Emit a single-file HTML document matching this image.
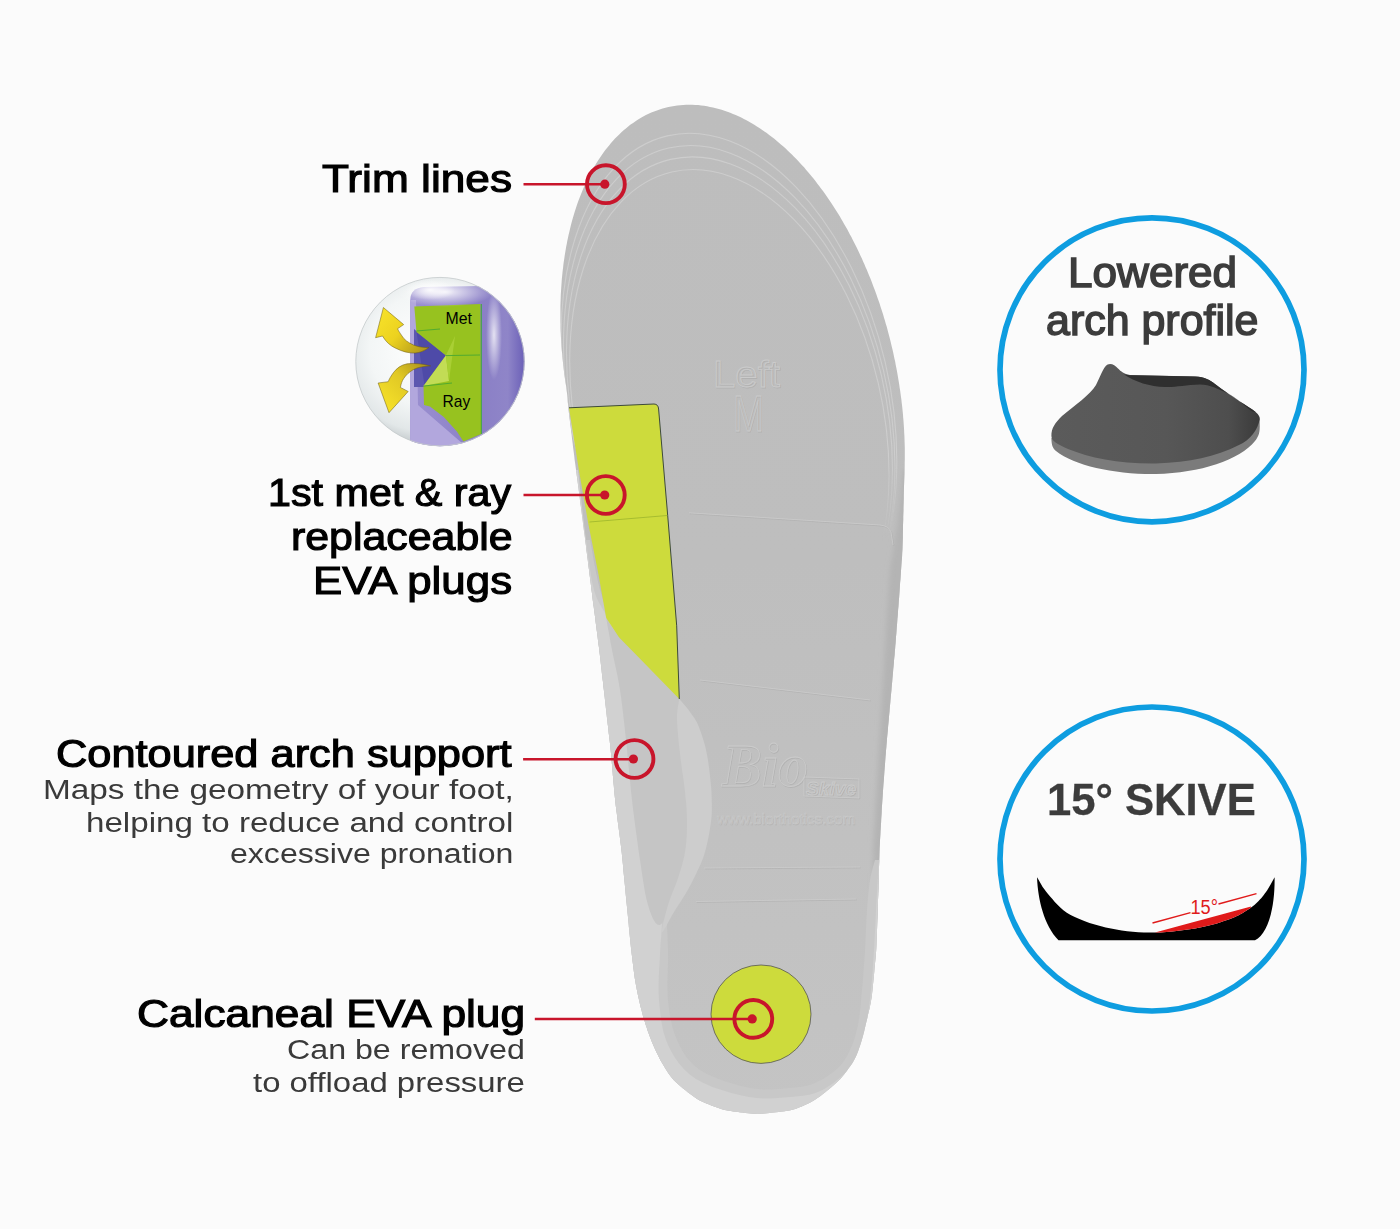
<!DOCTYPE html>
<html><head><meta charset="utf-8"><title>Insole features</title>
<style>
html,body{margin:0;padding:0;background:#fbfbfb;}
body{width:1400px;height:1229px;position:relative;overflow:hidden;font-family:"Liberation Sans",sans-serif;}
.s{position:absolute;left:0;top:0;}
.t{position:absolute;white-space:nowrap;transform-origin:0 50%;}
</style></head><body>
<svg class="s" width="1400" height="1229" viewBox="0 0 1400 1229">
<defs><clipPath id="ins"><path d="M567.0,393.1 L566.6,390.1 L566.2,387.1 L565.8,384.1 L565.3,381.2 L564.9,378.2 L564.5,375.2 L564.1,372.2 L563.7,369.3 L563.4,366.3 L563.1,363.3 L562.7,360.3 L562.4,357.3 L562.2,354.3 L561.9,351.3 L561.7,348.3 L561.5,345.3 L561.3,342.3 L561.1,339.4 L560.9,336.4 L560.8,333.4 L560.6,330.4 L560.5,327.4 L560.5,324.3 L560.4,321.3 L560.4,318.3 L560.4,315.3 L560.4,312.3 L560.4,309.3 L560.4,306.3 L560.5,303.3 L560.6,300.3 L560.7,297.3 L560.8,294.3 L561.0,291.3 L561.2,288.3 L561.4,285.3 L561.6,282.3 L561.8,279.3 L562.1,276.4 L562.4,273.4 L562.7,270.4 L563.1,267.4 L563.4,264.4 L563.8,261.4 L564.3,258.5 L564.7,255.5 L565.2,252.5 L565.7,249.6 L566.2,246.6 L566.8,243.7 L567.3,240.7 L568.0,237.8 L568.6,234.8 L569.3,231.9 L570.0,229.0 L570.7,226.1 L571.4,223.2 L572.2,220.3 L573.0,217.4 L573.9,214.5 L574.8,211.6 L575.7,208.8 L576.6,205.9 L577.6,203.1 L578.6,200.3 L579.7,197.4 L580.8,194.7 L581.9,191.9 L583.1,189.1 L584.3,186.3 L585.5,183.6 L586.8,180.9 L588.1,178.2 L589.4,175.5 L590.8,172.9 L592.3,170.2 L593.7,167.6 L595.3,165.0 L596.8,162.5 L598.4,159.9 L600.1,157.4 L601.8,154.9 L603.5,152.5 L605.3,150.1 L607.2,147.7 L609.1,145.4 L611.0,143.1 L613.0,140.8 L615.0,138.6 L617.1,136.5 L619.2,134.4 L621.4,132.3 L623.6,130.3 L625.9,128.4 L628.2,126.5 L630.6,124.6 L633.1,122.9 L635.5,121.2 L638.1,119.6 L640.6,118.0 L643.2,116.5 L645.9,115.1 L648.6,113.8 L651.3,112.6 L654.1,111.4 L656.9,110.4 L659.7,109.4 L662.6,108.5 L665.5,107.7 L668.4,107.0 L671.3,106.4 L674.3,105.9 L677.2,105.5 L680.2,105.2 L683.2,104.9 L686.2,104.8 L689.2,104.8 L692.2,104.8 L695.2,104.9 L698.2,105.1 L701.2,105.4 L704.1,105.8 L707.1,106.3 L710.0,106.9 L713.0,107.5 L715.9,108.2 L718.8,109.0 L721.7,109.8 L724.5,110.7 L727.4,111.7 L730.2,112.8 L733.0,113.9 L735.7,115.1 L738.5,116.3 L741.2,117.6 L743.9,118.9 L746.5,120.3 L749.1,121.8 L751.7,123.2 L754.3,124.8 L756.9,126.4 L759.4,128.0 L761.9,129.7 L764.4,131.4 L766.8,133.1 L769.2,134.9 L771.6,136.7 L774.0,138.6 L776.3,140.5 L778.6,142.4 L780.9,144.4 L783.1,146.3 L785.4,148.3 L787.6,150.4 L789.7,152.5 L791.9,154.6 L794.0,156.7 L796.1,158.8 L798.2,161.0 L800.2,163.2 L802.3,165.4 L804.3,167.6 L806.2,169.9 L808.2,172.2 L810.1,174.5 L812.0,176.8 L813.9,179.1 L815.8,181.5 L817.6,183.9 L819.4,186.3 L821.2,188.7 L823.0,191.1 L824.8,193.5 L826.5,196.0 L828.2,198.4 L829.9,200.9 L831.6,203.4 L833.2,205.9 L834.8,208.5 L836.4,211.0 L838.0,213.6 L839.6,216.1 L841.1,218.7 L842.6,221.3 L844.1,223.9 L845.6,226.5 L847.1,229.1 L848.5,231.8 L849.9,234.4 L851.4,237.1 L852.7,239.7 L854.1,242.4 L855.4,245.1 L856.8,247.8 L858.1,250.5 L859.4,253.2 L860.6,255.9 L861.9,258.6 L863.1,261.4 L864.3,264.1 L865.5,266.9 L866.7,269.6 L867.9,272.4 L869.0,275.2 L870.2,278.0 L871.3,280.8 L872.3,283.6 L873.4,286.4 L874.5,289.2 L875.5,292.0 L876.5,294.8 L877.5,297.7 L878.5,300.5 L879.5,303.3 L880.4,306.2 L881.3,309.1 L882.3,311.9 L883.2,314.8 L884.0,317.7 L884.9,320.5 L885.7,323.4 L886.6,326.3 L887.4,329.2 L888.1,332.1 L888.9,335.0 L889.7,337.9 L890.4,340.8 L891.1,343.7 L891.8,346.7 L892.5,349.6 L893.2,352.5 L893.8,355.4 L894.4,358.4 L895.1,361.3 L895.6,364.3 L896.2,367.2 L896.8,370.2 L897.3,373.1 L897.8,376.1 L898.3,379.0 L898.8,382.0 L899.3,385.0 L899.7,387.9 L900.2,390.9 L900.6,393.9 L901.0,396.9 L901.4,399.8 L901.7,402.8 L902.1,405.8 L902.4,408.8 L902.7,411.8 L903.0,414.8 L903.2,417.8 L903.5,420.8 L903.7,423.7 L903.9,426.7 L904.1,429.7 L904.2,432.7 L904.4,435.7 L904.5,438.7 L904.6,441.7 L904.7,444.7 L904.8,447.7 L904.8,450.7 L904.8,453.8 L904.8,456.8 L904.8,459.8 L904.7,462.8 L904.7,465.8 L904.6,468.8 L904.5,471.8 L904.4,474.8 L904.3,477.8 L904.2,480.8 L904.1,483.8 L904.0,486.8 L903.9,489.8 L903.8,492.8 L903.7,495.8 L903.7,498.8 L903.6,501.8 L903.5,504.8 L903.4,507.8 L903.4,510.8 L903.3,513.8 L903.2,516.8 L903.2,519.8 L903.1,522.8 L903.0,525.8 L903.0,528.8 L902.9,531.8 L902.8,534.8 L902.8,537.8 L902.7,540.8 L902.6,543.8 L902.5,546.8 L902.4,549.8 L902.2,552.8 L902.1,555.8 L901.9,558.8 L901.6,561.8 L901.4,564.8 L901.2,567.8 L901.0,570.8 L900.8,573.8 L900.6,576.8 L900.4,579.8 L900.1,582.8 L899.9,585.8 L899.7,588.8 L899.5,591.8 L899.3,594.8 L899.1,597.8 L898.8,600.8 L898.6,603.8 L898.4,606.8 L898.1,609.7 L897.9,612.7 L897.7,615.7 L897.4,618.7 L897.2,621.7 L897.0,624.7 L896.7,627.7 L896.5,630.7 L896.3,633.7 L896.0,636.7 L895.8,639.7 L895.6,642.7 L895.3,645.7 L895.1,648.7 L894.8,651.7 L894.6,654.7 L894.3,657.6 L894.0,660.6 L893.8,663.6 L893.5,666.6 L893.2,669.6 L893.0,672.6 L892.7,675.6 L892.4,678.6 L892.2,681.6 L891.9,684.6 L891.6,687.6 L891.4,690.6 L891.1,693.5 L890.8,696.5 L890.5,699.5 L890.3,702.5 L890.0,705.5 L889.7,708.5 L889.5,711.5 L889.2,714.5 L888.9,717.5 L888.7,720.5 L888.4,723.5 L888.1,726.5 L887.9,729.4 L887.6,732.4 L887.3,735.4 L887.0,738.4 L886.8,741.4 L886.5,744.4 L886.3,747.4 L886.0,750.4 L885.8,753.4 L885.5,756.4 L885.3,759.4 L885.1,762.4 L884.9,765.4 L884.6,768.4 L884.4,771.3 L884.2,774.3 L884.0,777.3 L883.8,780.3 L883.5,783.3 L883.3,786.3 L883.1,789.3 L882.9,792.3 L882.7,795.3 L882.5,798.3 L882.3,801.3 L882.1,804.3 L881.9,807.3 L881.7,810.3 L881.6,813.3 L881.4,816.3 L881.2,819.3 L881.1,822.3 L880.9,825.3 L880.7,828.3 L880.5,831.3 L880.4,834.3 L880.2,837.3 L880.0,840.3 L879.9,843.3 L879.7,846.3 L879.6,849.3 L879.5,852.3 L879.4,855.3 L879.3,858.3 L879.2,861.3 L879.1,864.3 L879.0,867.3 L878.9,870.3 L878.8,873.3 L878.7,876.3 L878.6,879.3 L878.5,882.3 L878.4,885.3 L878.4,888.3 L878.3,891.3 L878.2,894.3 L878.1,897.3 L878.0,900.3 L877.9,903.3 L877.8,906.3 L877.7,909.3 L877.6,912.3 L877.5,915.3 L877.4,918.3 L877.3,921.3 L877.2,924.3 L877.1,927.3 L877.0,930.3 L876.9,933.3 L876.8,936.3 L876.7,939.3 L876.5,942.3 L876.4,945.3 L876.3,948.3 L876.1,951.3 L875.8,954.3 L875.6,957.3 L875.3,960.3 L875.0,963.3 L874.7,966.3 L874.4,969.3 L874.2,972.3 L873.9,975.3 L873.6,978.3 L873.3,981.2 L873.0,984.2 L872.7,987.2 L872.4,990.2 L872.1,993.2 L871.7,996.2 L871.3,999.1 L870.8,1002.1 L870.2,1005.0 L869.6,1008.0 L868.9,1010.9 L868.2,1013.8 L867.6,1016.7 L866.9,1019.7 L866.2,1022.6 L865.5,1025.5 L864.8,1028.4 L864.1,1031.4 L863.4,1034.3 L862.6,1037.2 L861.8,1040.1 L860.9,1042.9 L860.0,1045.8 L859.0,1048.6 L858.0,1051.4 L856.9,1054.2 L855.7,1057.0 L854.4,1059.6 L852.9,1062.2 L851.3,1064.7 L849.6,1067.1 L847.8,1069.6 L846.0,1071.9 L844.2,1074.3 L842.3,1076.6 L840.3,1078.9 L838.2,1081.0 L836.0,1083.0 L833.8,1085.0 L831.5,1087.0 L829.2,1088.9 L826.9,1090.8 L824.6,1092.7 L822.2,1094.6 L819.8,1096.4 L817.4,1098.1 L814.9,1099.8 L812.4,1101.3 L809.7,1102.7 L807.0,1104.0 L804.3,1105.3 L801.6,1106.5 L798.8,1107.6 L796.0,1108.7 L793.2,1109.5 L790.3,1110.2 L787.4,1110.7 L784.4,1111.2 L781.4,1111.5 L778.5,1111.9 L775.5,1112.3 L772.5,1112.6 L769.5,1113.0 L766.5,1113.3 L763.5,1113.6 L760.6,1113.8 L757.6,1113.9 L754.6,1113.8 L751.6,1113.6 L748.6,1113.3 L745.7,1113.0 L742.7,1112.6 L739.7,1112.2 L736.7,1111.8 L733.8,1111.4 L730.8,1111.0 L727.8,1110.5 L724.9,1109.9 L722.0,1109.2 L719.2,1108.3 L716.4,1107.3 L713.5,1106.3 L710.8,1105.2 L708.0,1104.0 L705.2,1102.9 L702.5,1101.7 L699.8,1100.4 L697.2,1098.9 L694.7,1097.3 L692.3,1095.6 L689.9,1093.7 L687.5,1091.9 L685.2,1090.0 L682.8,1088.2 L680.5,1086.3 L678.2,1084.3 L676.0,1082.3 L673.9,1080.2 L672.0,1078.0 L670.2,1075.7 L668.4,1073.2 L666.8,1070.7 L665.2,1068.2 L663.6,1065.6 L662.1,1063.1 L660.6,1060.5 L659.2,1057.8 L657.9,1055.1 L656.6,1052.4 L655.3,1049.7 L654.1,1046.9 L652.9,1044.2 L651.7,1041.4 L650.6,1038.6 L649.5,1035.8 L648.5,1033.0 L647.5,1030.2 L646.6,1027.3 L645.6,1024.5 L644.7,1021.6 L643.8,1018.8 L643.0,1015.9 L642.2,1013.0 L641.5,1010.1 L640.7,1007.2 L640.0,1004.2 L639.3,1001.3 L638.7,998.4 L638.0,995.5 L637.4,992.5 L636.8,989.6 L636.3,986.6 L635.7,983.7 L635.2,980.7 L634.7,977.8 L634.3,974.8 L633.9,971.8 L633.5,968.8 L633.2,965.8 L632.8,962.9 L632.4,959.9 L632.1,956.9 L631.7,953.9 L631.4,950.9 L631.0,948.0 L630.7,945.0 L630.4,942.0 L630.1,939.0 L629.8,936.0 L629.5,933.0 L629.2,930.0 L628.9,927.0 L628.7,924.0 L628.4,921.1 L628.1,918.1 L627.8,915.1 L627.5,912.1 L627.2,909.1 L626.9,906.1 L626.6,903.1 L626.3,900.1 L626.0,897.1 L625.7,894.1 L625.5,891.2 L625.2,888.2 L624.9,885.2 L624.6,882.2 L624.3,879.2 L624.0,876.2 L623.7,873.2 L623.4,870.2 L623.2,867.2 L622.9,864.3 L622.6,861.3 L622.3,858.3 L622.0,855.3 L621.7,852.3 L621.3,849.3 L621.0,846.3 L620.6,843.3 L620.2,840.4 L619.9,837.4 L619.5,834.4 L619.1,831.4 L618.7,828.5 L618.3,825.5 L617.9,822.5 L617.5,819.5 L617.2,816.5 L616.8,813.6 L616.4,810.6 L616.0,807.6 L615.6,804.6 L615.3,801.6 L615.0,798.7 L614.7,795.7 L614.4,792.7 L614.1,789.7 L613.9,786.7 L613.6,783.7 L613.3,780.7 L613.1,777.7 L612.8,774.7 L612.6,771.7 L612.3,768.7 L612.1,765.7 L611.8,762.8 L611.5,759.8 L611.3,756.8 L611.0,753.8 L610.7,750.8 L610.4,747.8 L610.1,744.8 L609.8,741.8 L609.4,738.8 L609.1,735.9 L608.7,732.9 L608.4,729.9 L608.1,726.9 L607.7,723.9 L607.4,720.9 L607.0,718.0 L606.7,715.0 L606.4,712.0 L606.0,709.0 L605.7,706.0 L605.3,703.0 L605.0,700.1 L604.7,697.1 L604.3,694.1 L604.0,691.1 L603.6,688.1 L603.3,685.1 L603.0,682.1 L602.6,679.2 L602.3,676.2 L601.9,673.2 L601.6,670.2 L601.3,667.2 L600.9,664.2 L600.6,661.3 L600.2,658.3 L599.9,655.3 L599.5,652.3 L599.2,649.3 L598.8,646.3 L598.4,643.4 L598.0,640.4 L597.7,637.4 L597.3,634.4 L596.9,631.5 L596.5,628.5 L596.1,625.5 L595.7,622.5 L595.3,619.5 L595.0,616.6 L594.6,613.6 L594.2,610.6 L593.8,607.6 L593.4,604.6 L593.0,601.7 L592.6,598.7 L592.3,595.7 L591.9,592.7 L591.5,589.7 L591.1,586.8 L590.8,583.8 L590.4,580.8 L590.0,577.8 L589.6,574.8 L589.3,571.9 L588.9,568.9 L588.5,565.9 L588.1,562.9 L587.8,559.9 L587.4,557.0 L587.0,554.0 L586.6,551.0 L586.2,548.0 L585.9,545.1 L585.5,542.1 L585.1,539.1 L584.7,536.1 L584.3,533.1 L583.9,530.2 L583.5,527.2 L583.1,524.2 L582.8,521.2 L582.4,518.2 L582.0,515.3 L581.6,512.3 L581.2,509.3 L580.8,506.3 L580.4,503.4 L580.0,500.4 L579.7,497.4 L579.3,494.4 L578.9,491.4 L578.5,488.5 L578.1,485.5 L577.7,482.5 L577.3,479.5 L576.9,476.6 L576.5,473.6 L576.1,470.6 L575.7,467.6 L575.3,464.6 L574.9,461.7 L574.5,458.7 L574.2,455.7 L573.8,452.7 L573.4,449.8 L573.0,446.8 L572.7,443.8 L572.3,440.8 L571.9,437.8 L571.6,434.8 L571.2,431.9 L570.9,428.9 L570.5,425.9 L570.1,422.9 L569.8,419.9 L569.4,417.0 L569.1,414.0 L568.7,411.0 L568.4,408.0 L568.1,405.0 L567.8,402.0 L567.6,399.0 L567.3,396.0Z"/></clipPath>
<mask id="toeclip" maskUnits="userSpaceOnUse" x="540" y="100" width="380" height="460"><rect x="540" y="100" width="380" height="460" fill="url(#gtrim)"/></mask><linearGradient id="gtrim" x1="0" y1="100" x2="0" y2="540" gradientUnits="userSpaceOnUse"><stop offset="0" stop-color="#fff"/><stop offset="0.8" stop-color="#fff"/><stop offset="1" stop-color="#000"/></linearGradient>
<linearGradient id="gbase" x1="0" y1="106" x2="0" y2="1114" gradientUnits="userSpaceOnUse"><stop offset="0" stop-color="#bdbdbd"/><stop offset="0.45" stop-color="#bebebe"/><stop offset="1" stop-color="#c4c4c4"/></linearGradient>
<linearGradient id="gwall" x1="860" y1="0" x2="905" y2="0" gradientUnits="userSpaceOnUse"><stop offset="0" stop-color="#bdbdbd"/><stop offset="0.6" stop-color="#b2b2b2"/><stop offset="1" stop-color="#b8b8b8"/></linearGradient>
<filter id="blur2" x="-20%" y="-20%" width="140%" height="140%"><feGaussianBlur stdDeviation="2.5"/></filter><filter id="blur1"><feGaussianBlur stdDeviation="1.2"/></filter>
</defs>
<path d="M567.0,393.1 L566.6,390.1 L566.2,387.1 L565.8,384.1 L565.3,381.2 L564.9,378.2 L564.5,375.2 L564.1,372.2 L563.7,369.3 L563.4,366.3 L563.1,363.3 L562.7,360.3 L562.4,357.3 L562.2,354.3 L561.9,351.3 L561.7,348.3 L561.5,345.3 L561.3,342.3 L561.1,339.4 L560.9,336.4 L560.8,333.4 L560.6,330.4 L560.5,327.4 L560.5,324.3 L560.4,321.3 L560.4,318.3 L560.4,315.3 L560.4,312.3 L560.4,309.3 L560.4,306.3 L560.5,303.3 L560.6,300.3 L560.7,297.3 L560.8,294.3 L561.0,291.3 L561.2,288.3 L561.4,285.3 L561.6,282.3 L561.8,279.3 L562.1,276.4 L562.4,273.4 L562.7,270.4 L563.1,267.4 L563.4,264.4 L563.8,261.4 L564.3,258.5 L564.7,255.5 L565.2,252.5 L565.7,249.6 L566.2,246.6 L566.8,243.7 L567.3,240.7 L568.0,237.8 L568.6,234.8 L569.3,231.9 L570.0,229.0 L570.7,226.1 L571.4,223.2 L572.2,220.3 L573.0,217.4 L573.9,214.5 L574.8,211.6 L575.7,208.8 L576.6,205.9 L577.6,203.1 L578.6,200.3 L579.7,197.4 L580.8,194.7 L581.9,191.9 L583.1,189.1 L584.3,186.3 L585.5,183.6 L586.8,180.9 L588.1,178.2 L589.4,175.5 L590.8,172.9 L592.3,170.2 L593.7,167.6 L595.3,165.0 L596.8,162.5 L598.4,159.9 L600.1,157.4 L601.8,154.9 L603.5,152.5 L605.3,150.1 L607.2,147.7 L609.1,145.4 L611.0,143.1 L613.0,140.8 L615.0,138.6 L617.1,136.5 L619.2,134.4 L621.4,132.3 L623.6,130.3 L625.9,128.4 L628.2,126.5 L630.6,124.6 L633.1,122.9 L635.5,121.2 L638.1,119.6 L640.6,118.0 L643.2,116.5 L645.9,115.1 L648.6,113.8 L651.3,112.6 L654.1,111.4 L656.9,110.4 L659.7,109.4 L662.6,108.5 L665.5,107.7 L668.4,107.0 L671.3,106.4 L674.3,105.9 L677.2,105.5 L680.2,105.2 L683.2,104.9 L686.2,104.8 L689.2,104.8 L692.2,104.8 L695.2,104.9 L698.2,105.1 L701.2,105.4 L704.1,105.8 L707.1,106.3 L710.0,106.9 L713.0,107.5 L715.9,108.2 L718.8,109.0 L721.7,109.8 L724.5,110.7 L727.4,111.7 L730.2,112.8 L733.0,113.9 L735.7,115.1 L738.5,116.3 L741.2,117.6 L743.9,118.9 L746.5,120.3 L749.1,121.8 L751.7,123.2 L754.3,124.8 L756.9,126.4 L759.4,128.0 L761.9,129.7 L764.4,131.4 L766.8,133.1 L769.2,134.9 L771.6,136.7 L774.0,138.6 L776.3,140.5 L778.6,142.4 L780.9,144.4 L783.1,146.3 L785.4,148.3 L787.6,150.4 L789.7,152.5 L791.9,154.6 L794.0,156.7 L796.1,158.8 L798.2,161.0 L800.2,163.2 L802.3,165.4 L804.3,167.6 L806.2,169.9 L808.2,172.2 L810.1,174.5 L812.0,176.8 L813.9,179.1 L815.8,181.5 L817.6,183.9 L819.4,186.3 L821.2,188.7 L823.0,191.1 L824.8,193.5 L826.5,196.0 L828.2,198.4 L829.9,200.9 L831.6,203.4 L833.2,205.9 L834.8,208.5 L836.4,211.0 L838.0,213.6 L839.6,216.1 L841.1,218.7 L842.6,221.3 L844.1,223.9 L845.6,226.5 L847.1,229.1 L848.5,231.8 L849.9,234.4 L851.4,237.1 L852.7,239.7 L854.1,242.4 L855.4,245.1 L856.8,247.8 L858.1,250.5 L859.4,253.2 L860.6,255.9 L861.9,258.6 L863.1,261.4 L864.3,264.1 L865.5,266.9 L866.7,269.6 L867.9,272.4 L869.0,275.2 L870.2,278.0 L871.3,280.8 L872.3,283.6 L873.4,286.4 L874.5,289.2 L875.5,292.0 L876.5,294.8 L877.5,297.7 L878.5,300.5 L879.5,303.3 L880.4,306.2 L881.3,309.1 L882.3,311.9 L883.2,314.8 L884.0,317.7 L884.9,320.5 L885.7,323.4 L886.6,326.3 L887.4,329.2 L888.1,332.1 L888.9,335.0 L889.7,337.9 L890.4,340.8 L891.1,343.7 L891.8,346.7 L892.5,349.6 L893.2,352.5 L893.8,355.4 L894.4,358.4 L895.1,361.3 L895.6,364.3 L896.2,367.2 L896.8,370.2 L897.3,373.1 L897.8,376.1 L898.3,379.0 L898.8,382.0 L899.3,385.0 L899.7,387.9 L900.2,390.9 L900.6,393.9 L901.0,396.9 L901.4,399.8 L901.7,402.8 L902.1,405.8 L902.4,408.8 L902.7,411.8 L903.0,414.8 L903.2,417.8 L903.5,420.8 L903.7,423.7 L903.9,426.7 L904.1,429.7 L904.2,432.7 L904.4,435.7 L904.5,438.7 L904.6,441.7 L904.7,444.7 L904.8,447.7 L904.8,450.7 L904.8,453.8 L904.8,456.8 L904.8,459.8 L904.7,462.8 L904.7,465.8 L904.6,468.8 L904.5,471.8 L904.4,474.8 L904.3,477.8 L904.2,480.8 L904.1,483.8 L904.0,486.8 L903.9,489.8 L903.8,492.8 L903.7,495.8 L903.7,498.8 L903.6,501.8 L903.5,504.8 L903.4,507.8 L903.4,510.8 L903.3,513.8 L903.2,516.8 L903.2,519.8 L903.1,522.8 L903.0,525.8 L903.0,528.8 L902.9,531.8 L902.8,534.8 L902.8,537.8 L902.7,540.8 L902.6,543.8 L902.5,546.8 L902.4,549.8 L902.2,552.8 L902.1,555.8 L901.9,558.8 L901.6,561.8 L901.4,564.8 L901.2,567.8 L901.0,570.8 L900.8,573.8 L900.6,576.8 L900.4,579.8 L900.1,582.8 L899.9,585.8 L899.7,588.8 L899.5,591.8 L899.3,594.8 L899.1,597.8 L898.8,600.8 L898.6,603.8 L898.4,606.8 L898.1,609.7 L897.9,612.7 L897.7,615.7 L897.4,618.7 L897.2,621.7 L897.0,624.7 L896.7,627.7 L896.5,630.7 L896.3,633.7 L896.0,636.7 L895.8,639.7 L895.6,642.7 L895.3,645.7 L895.1,648.7 L894.8,651.7 L894.6,654.7 L894.3,657.6 L894.0,660.6 L893.8,663.6 L893.5,666.6 L893.2,669.6 L893.0,672.6 L892.7,675.6 L892.4,678.6 L892.2,681.6 L891.9,684.6 L891.6,687.6 L891.4,690.6 L891.1,693.5 L890.8,696.5 L890.5,699.5 L890.3,702.5 L890.0,705.5 L889.7,708.5 L889.5,711.5 L889.2,714.5 L888.9,717.5 L888.7,720.5 L888.4,723.5 L888.1,726.5 L887.9,729.4 L887.6,732.4 L887.3,735.4 L887.0,738.4 L886.8,741.4 L886.5,744.4 L886.3,747.4 L886.0,750.4 L885.8,753.4 L885.5,756.4 L885.3,759.4 L885.1,762.4 L884.9,765.4 L884.6,768.4 L884.4,771.3 L884.2,774.3 L884.0,777.3 L883.8,780.3 L883.5,783.3 L883.3,786.3 L883.1,789.3 L882.9,792.3 L882.7,795.3 L882.5,798.3 L882.3,801.3 L882.1,804.3 L881.9,807.3 L881.7,810.3 L881.6,813.3 L881.4,816.3 L881.2,819.3 L881.1,822.3 L880.9,825.3 L880.7,828.3 L880.5,831.3 L880.4,834.3 L880.2,837.3 L880.0,840.3 L879.9,843.3 L879.7,846.3 L879.6,849.3 L879.5,852.3 L879.4,855.3 L879.3,858.3 L879.2,861.3 L879.1,864.3 L879.0,867.3 L878.9,870.3 L878.8,873.3 L878.7,876.3 L878.6,879.3 L878.5,882.3 L878.4,885.3 L878.4,888.3 L878.3,891.3 L878.2,894.3 L878.1,897.3 L878.0,900.3 L877.9,903.3 L877.8,906.3 L877.7,909.3 L877.6,912.3 L877.5,915.3 L877.4,918.3 L877.3,921.3 L877.2,924.3 L877.1,927.3 L877.0,930.3 L876.9,933.3 L876.8,936.3 L876.7,939.3 L876.5,942.3 L876.4,945.3 L876.3,948.3 L876.1,951.3 L875.8,954.3 L875.6,957.3 L875.3,960.3 L875.0,963.3 L874.7,966.3 L874.4,969.3 L874.2,972.3 L873.9,975.3 L873.6,978.3 L873.3,981.2 L873.0,984.2 L872.7,987.2 L872.4,990.2 L872.1,993.2 L871.7,996.2 L871.3,999.1 L870.8,1002.1 L870.2,1005.0 L869.6,1008.0 L868.9,1010.9 L868.2,1013.8 L867.6,1016.7 L866.9,1019.7 L866.2,1022.6 L865.5,1025.5 L864.8,1028.4 L864.1,1031.4 L863.4,1034.3 L862.6,1037.2 L861.8,1040.1 L860.9,1042.9 L860.0,1045.8 L859.0,1048.6 L858.0,1051.4 L856.9,1054.2 L855.7,1057.0 L854.4,1059.6 L852.9,1062.2 L851.3,1064.7 L849.6,1067.1 L847.8,1069.6 L846.0,1071.9 L844.2,1074.3 L842.3,1076.6 L840.3,1078.9 L838.2,1081.0 L836.0,1083.0 L833.8,1085.0 L831.5,1087.0 L829.2,1088.9 L826.9,1090.8 L824.6,1092.7 L822.2,1094.6 L819.8,1096.4 L817.4,1098.1 L814.9,1099.8 L812.4,1101.3 L809.7,1102.7 L807.0,1104.0 L804.3,1105.3 L801.6,1106.5 L798.8,1107.6 L796.0,1108.7 L793.2,1109.5 L790.3,1110.2 L787.4,1110.7 L784.4,1111.2 L781.4,1111.5 L778.5,1111.9 L775.5,1112.3 L772.5,1112.6 L769.5,1113.0 L766.5,1113.3 L763.5,1113.6 L760.6,1113.8 L757.6,1113.9 L754.6,1113.8 L751.6,1113.6 L748.6,1113.3 L745.7,1113.0 L742.7,1112.6 L739.7,1112.2 L736.7,1111.8 L733.8,1111.4 L730.8,1111.0 L727.8,1110.5 L724.9,1109.9 L722.0,1109.2 L719.2,1108.3 L716.4,1107.3 L713.5,1106.3 L710.8,1105.2 L708.0,1104.0 L705.2,1102.9 L702.5,1101.7 L699.8,1100.4 L697.2,1098.9 L694.7,1097.3 L692.3,1095.6 L689.9,1093.7 L687.5,1091.9 L685.2,1090.0 L682.8,1088.2 L680.5,1086.3 L678.2,1084.3 L676.0,1082.3 L673.9,1080.2 L672.0,1078.0 L670.2,1075.7 L668.4,1073.2 L666.8,1070.7 L665.2,1068.2 L663.6,1065.6 L662.1,1063.1 L660.6,1060.5 L659.2,1057.8 L657.9,1055.1 L656.6,1052.4 L655.3,1049.7 L654.1,1046.9 L652.9,1044.2 L651.7,1041.4 L650.6,1038.6 L649.5,1035.8 L648.5,1033.0 L647.5,1030.2 L646.6,1027.3 L645.6,1024.5 L644.7,1021.6 L643.8,1018.8 L643.0,1015.9 L642.2,1013.0 L641.5,1010.1 L640.7,1007.2 L640.0,1004.2 L639.3,1001.3 L638.7,998.4 L638.0,995.5 L637.4,992.5 L636.8,989.6 L636.3,986.6 L635.7,983.7 L635.2,980.7 L634.7,977.8 L634.3,974.8 L633.9,971.8 L633.5,968.8 L633.2,965.8 L632.8,962.9 L632.4,959.9 L632.1,956.9 L631.7,953.9 L631.4,950.9 L631.0,948.0 L630.7,945.0 L630.4,942.0 L630.1,939.0 L629.8,936.0 L629.5,933.0 L629.2,930.0 L628.9,927.0 L628.7,924.0 L628.4,921.1 L628.1,918.1 L627.8,915.1 L627.5,912.1 L627.2,909.1 L626.9,906.1 L626.6,903.1 L626.3,900.1 L626.0,897.1 L625.7,894.1 L625.5,891.2 L625.2,888.2 L624.9,885.2 L624.6,882.2 L624.3,879.2 L624.0,876.2 L623.7,873.2 L623.4,870.2 L623.2,867.2 L622.9,864.3 L622.6,861.3 L622.3,858.3 L622.0,855.3 L621.7,852.3 L621.3,849.3 L621.0,846.3 L620.6,843.3 L620.2,840.4 L619.9,837.4 L619.5,834.4 L619.1,831.4 L618.7,828.5 L618.3,825.5 L617.9,822.5 L617.5,819.5 L617.2,816.5 L616.8,813.6 L616.4,810.6 L616.0,807.6 L615.6,804.6 L615.3,801.6 L615.0,798.7 L614.7,795.7 L614.4,792.7 L614.1,789.7 L613.9,786.7 L613.6,783.7 L613.3,780.7 L613.1,777.7 L612.8,774.7 L612.6,771.7 L612.3,768.7 L612.1,765.7 L611.8,762.8 L611.5,759.8 L611.3,756.8 L611.0,753.8 L610.7,750.8 L610.4,747.8 L610.1,744.8 L609.8,741.8 L609.4,738.8 L609.1,735.9 L608.7,732.9 L608.4,729.9 L608.1,726.9 L607.7,723.9 L607.4,720.9 L607.0,718.0 L606.7,715.0 L606.4,712.0 L606.0,709.0 L605.7,706.0 L605.3,703.0 L605.0,700.1 L604.7,697.1 L604.3,694.1 L604.0,691.1 L603.6,688.1 L603.3,685.1 L603.0,682.1 L602.6,679.2 L602.3,676.2 L601.9,673.2 L601.6,670.2 L601.3,667.2 L600.9,664.2 L600.6,661.3 L600.2,658.3 L599.9,655.3 L599.5,652.3 L599.2,649.3 L598.8,646.3 L598.4,643.4 L598.0,640.4 L597.7,637.4 L597.3,634.4 L596.9,631.5 L596.5,628.5 L596.1,625.5 L595.7,622.5 L595.3,619.5 L595.0,616.6 L594.6,613.6 L594.2,610.6 L593.8,607.6 L593.4,604.6 L593.0,601.7 L592.6,598.7 L592.3,595.7 L591.9,592.7 L591.5,589.7 L591.1,586.8 L590.8,583.8 L590.4,580.8 L590.0,577.8 L589.6,574.8 L589.3,571.9 L588.9,568.9 L588.5,565.9 L588.1,562.9 L587.8,559.9 L587.4,557.0 L587.0,554.0 L586.6,551.0 L586.2,548.0 L585.9,545.1 L585.5,542.1 L585.1,539.1 L584.7,536.1 L584.3,533.1 L583.9,530.2 L583.5,527.2 L583.1,524.2 L582.8,521.2 L582.4,518.2 L582.0,515.3 L581.6,512.3 L581.2,509.3 L580.8,506.3 L580.4,503.4 L580.0,500.4 L579.7,497.4 L579.3,494.4 L578.9,491.4 L578.5,488.5 L578.1,485.5 L577.7,482.5 L577.3,479.5 L576.9,476.6 L576.5,473.6 L576.1,470.6 L575.7,467.6 L575.3,464.6 L574.9,461.7 L574.5,458.7 L574.2,455.7 L573.8,452.7 L573.4,449.8 L573.0,446.8 L572.7,443.8 L572.3,440.8 L571.9,437.8 L571.6,434.8 L571.2,431.9 L570.9,428.9 L570.5,425.9 L570.1,422.9 L569.8,419.9 L569.4,417.0 L569.1,414.0 L568.7,411.0 L568.4,408.0 L568.1,405.0 L567.8,402.0 L567.6,399.0 L567.3,396.0Z" fill="url(#gbase)"/>
<g clip-path="url(#ins)">
<path d="M903.6,470.0 L898.0,520.0 L890.0,570.0 L886.0,630.0 L882.0,700.0 L877.0,780.0 L873.0,850.0 L874.0,900.0 L880.0,930.0 L920.0,930.0 L920.0,470.0Z" fill="#b4b4b4" filter="url(#blur2)"/>
<path d="M590.0,540.0 L591.1,545.6 L592.5,553.6 L594.2,563.0 L596.1,572.8 L598.1,582.1 L600.0,590.0 L601.9,596.3 L603.8,601.8 L605.8,606.8 L607.8,611.6 L609.9,616.5 L612.0,622.0 L614.3,628.0 L616.8,634.1 L619.4,640.5 L621.9,647.0 L624.1,653.5 L626.0,660.0 L627.4,666.4 L628.5,672.8 L629.4,679.2 L630.1,685.9 L631.0,692.7 L632.0,700.0 L633.2,707.8 L634.4,715.9 L635.8,724.4 L637.1,733.0 L638.5,741.6 L640.0,750.0 L641.6,758.3 L643.3,766.7 L645.0,775.0 L646.7,783.3 L648.4,791.7 L650.0,800.0 L651.5,808.3 L652.9,816.7 L654.2,825.0 L655.5,833.3 L656.7,841.7 L658.0,850.0 L659.3,858.3 L660.6,866.7 L661.8,875.0 L663.0,883.3 L664.1,891.7 L665.0,900.0 L665.8,908.3 L666.4,916.7 L666.9,925.0 L667.4,933.3 L667.7,941.7 L668.0,950.0 L668.1,958.4 L667.9,967.0 L667.6,975.6 L667.4,984.1 L667.5,992.2 L668.0,1000.0 L668.8,1007.4 L669.8,1014.4 L671.1,1021.2 L672.6,1027.8 L674.6,1034.0 L677.0,1040.0 L679.7,1045.7 L682.6,1051.2 L685.9,1056.4 L689.8,1061.3 L694.4,1065.8 L700.0,1070.0 L706.9,1073.9 L715.0,1077.6 L723.9,1080.9 L733.1,1083.8 L741.9,1086.2 L750.0,1088.0 L757.4,1089.1 L764.6,1089.5 L771.6,1089.4 L778.1,1089.0 L784.3,1088.5 L790.0,1088.0 L795.1,1087.6 L799.5,1087.1 L803.6,1086.4 L807.4,1085.6 L811.1,1084.5 L815.0,1083.0 L819.1,1081.1 L823.2,1078.9 L827.3,1076.3 L831.2,1073.6 L834.8,1070.8 L838.0,1068.0 L840.7,1065.3 L843.0,1062.5 L844.9,1059.6 L846.7,1056.6 L848.4,1053.4 L850.0,1050.0 L851.6,1046.4 L853.1,1042.6 L854.5,1038.6 L855.8,1034.3 L856.9,1029.8 L858.0,1025.0 L858.9,1019.8 L859.7,1014.3 L860.3,1008.4 L860.9,1002.4 L861.4,996.2 L862.0,990.0 L862.6,983.6 L863.1,977.0 L863.6,970.3 L864.1,963.5 L864.6,956.7 L865.0,950.0 L865.4,943.2 L865.7,936.3 L866.0,929.4 L866.3,922.6 L866.6,916.1 L867.0,910.0 L867.4,904.3 L867.9,898.9 L868.3,893.8 L868.8,888.9 L869.4,884.3 L870.0,880.0 L870.8,875.9 L871.7,871.9 L872.7,868.1 L873.6,864.8 L874.4,862.1 L875.0,860.0 L920.0,860.0 L920.0,1200.0 L500.0,1200.0 L500.0,540.0Z" fill="#c8c8c8"/>
<path d="M578.0,470.0 L578.9,477.8 L580.1,488.9 L581.5,501.9 L583.0,515.6 L584.6,528.7 L586.0,540.0 L587.3,549.8 L588.5,559.1 L589.8,567.8 L591.0,575.9 L592.4,583.3 L594.0,590.0 L595.8,595.7 L597.8,600.3 L599.9,604.3 L602.0,607.9 L604.1,611.4 L606.0,615.0 L607.8,618.5 L609.6,621.4 L611.4,624.3 L613.0,627.4 L614.6,631.2 L616.0,636.0 L617.2,642.0 L618.2,649.1 L619.1,656.8 L620.0,664.8 L620.9,672.6 L622.0,680.0 L623.2,686.8 L624.4,693.3 L625.8,699.8 L627.1,706.2 L628.5,712.9 L630.0,720.0 L631.6,727.6 L633.3,735.6 L635.0,743.9 L636.7,752.1 L638.4,760.3 L640.0,768.0 L641.5,775.4 L642.9,782.5 L644.2,789.5 L645.5,796.4 L646.7,803.2 L648.0,810.0 L649.2,816.9 L650.5,823.7 L651.7,830.5 L652.9,837.2 L654.0,843.7 L655.0,850.0 L656.0,856.0 L656.9,861.7 L657.8,867.2 L658.6,872.7 L659.4,878.3 L660.0,884.0 L660.6,889.9 L661.0,895.9 L661.4,902.0 L661.7,908.1 L661.9,914.1 L662.0,920.0 L661.9,925.6 L661.6,931.0 L661.2,936.4 L660.7,941.9 L660.3,947.7 L660.0,954.0 L659.7,961.0 L659.2,968.5 L658.8,976.3 L658.6,984.3 L658.6,992.3 L659.0,1000.0 L659.7,1007.7 L660.6,1015.5 L661.7,1023.2 L663.2,1030.9 L665.3,1038.1 L668.0,1045.0 L671.3,1051.5 L675.0,1057.7 L679.2,1063.7 L684.1,1069.3 L689.7,1074.4 L696.0,1079.0 L703.5,1083.1 L712.3,1086.9 L721.7,1090.1 L731.3,1092.9 L740.6,1095.2 L749.0,1097.0 L756.7,1098.1 L764.0,1098.5 L771.1,1098.4 L777.7,1098.0 L784.1,1097.5 L790.0,1097.0 L795.5,1096.6 L800.4,1096.1 L805.0,1095.6 L809.4,1094.7 L813.7,1093.6 L818.0,1092.0 L822.5,1089.9 L827.0,1087.3 L831.4,1084.4 L835.6,1081.3 L839.5,1078.1 L843.0,1075.0 L846.0,1072.0 L848.7,1068.9 L851.0,1065.8 L853.1,1062.5 L855.1,1058.9 L857.0,1055.0 L858.8,1050.6 L860.5,1045.9 L862.1,1040.9 L863.5,1035.7 L864.8,1030.4 L866.0,1025.0 L867.1,1019.5 L868.0,1013.9 L868.9,1008.1 L869.6,1002.2 L870.3,996.2 L871.0,990.0 L871.6,983.6 L872.2,977.0 L872.7,970.3 L873.1,963.5 L873.6,956.7 L874.0,950.0 L874.4,943.3 L874.7,936.5 L875.1,929.7 L875.4,923.0 L875.7,916.4 L876.0,910.0 L876.3,903.8 L876.7,897.8 L877.0,891.9 L877.3,886.1 L877.7,880.5 L878.0,875.0 L878.4,869.4 L878.7,863.5 L879.1,857.8 L879.5,852.6 L879.8,848.2 L880.0,845.0 L920.0,845.0 L920.0,1200.0 L500.0,1200.0 L500.0,470.0Z" fill="#d1d1d1"/>
<path d="M619.0,637.3 L626.1,644.4 L636.3,654.4 L648.2,666.2 L660.3,678.4 L671.1,689.8 L679.3,699.0 L684.5,705.8 L687.9,711.3 L690.1,715.9 L691.6,720.1 L693.1,724.7 L695.0,730.0 L697.4,736.3 L699.9,743.0 L702.2,750.1 L704.4,757.1 L706.4,763.8 L708.0,770.0 L709.3,775.5 L710.3,780.6 L711.1,785.3 L711.6,790.0 L711.9,794.8 L712.0,800.0 L711.9,805.6 L711.6,811.5 L711.1,817.5 L710.3,823.5 L709.3,829.4 L708.0,835.0 L706.4,840.3 L704.6,845.4 L702.4,850.3 L700.1,855.2 L697.6,860.1 L695.0,865.0 L692.1,870.0 L689.0,875.0 L685.7,880.0 L682.3,885.0 L679.1,890.0 L676.0,895.0 L673.1,900.6 L670.3,906.9 L667.6,913.1 L664.9,918.7 L662.4,922.9 L660.0,925.0 L657.7,924.8 L655.6,923.0 L653.5,919.7 L651.6,915.4 L649.7,910.4 L648.0,905.0 L646.4,899.1 L645.0,892.4 L643.8,885.0 L642.5,877.0 L641.3,868.7 L640.0,860.0 L638.6,850.9 L637.3,841.1 L635.9,830.9 L634.5,820.6 L633.2,810.2 L632.0,800.0 L630.9,789.9 L629.9,779.6 L628.9,769.4 L627.9,759.3 L627.0,749.4 L626.0,740.0 L625.0,731.0 L624.1,722.2 L623.1,713.8 L622.1,705.6 L621.1,697.6 L620.0,690.0 L618.8,682.7 L617.4,675.6 L616.0,668.9 L614.6,662.4 L613.2,656.1 L612.0,650.0 L610.8,643.8 L609.7,637.6 L608.6,631.5 L607.6,626.1 L606.8,621.5 L606.2,618.1Z" fill="#c5c5c5"/>
<path d="M679.3,699.0 L680.5,700.4 L682.2,702.3 L684.1,704.6 L686.2,707.1 L688.2,709.6 L690.0,712.0 L691.6,714.2 L693.0,716.2 L694.5,718.3 L695.8,720.6 L697.2,723.1 L698.5,726.0 L699.8,729.4 L701.2,733.2 L702.5,737.2 L703.8,741.5 L705.0,745.8 L706.0,750.0 L706.9,754.2 L707.7,758.6 L708.4,763.0 L709.0,767.4 L709.5,771.8 L710.0,776.0 L710.4,780.1 L710.8,784.2 L711.1,788.2 L711.3,792.2 L711.5,796.1 L711.6,800.0 L711.7,803.7 L711.8,807.2 L711.8,810.6 L711.7,814.1 L711.4,817.9 L711.0,822.0 L710.3,826.6 L709.5,831.7 L708.5,837.0 L707.4,842.3 L706.2,847.4 L705.0,852.0 L703.7,856.2 L702.3,860.0 L700.8,863.7 L699.2,867.2 L697.6,870.6 L696.0,874.0 L694.4,877.3 L692.8,880.6 L691.2,883.7 L689.5,886.8 L687.8,889.9 L686.0,893.0 L684.1,896.2 L682.1,899.3 L680.1,902.4 L678.1,905.6 L676.0,908.8 L674.0,912.0 L671.8,915.8 L669.3,920.3 L666.9,924.9 L664.7,928.8 L663.0,931.4 L662.0,932.0 L661.9,930.2 L662.5,926.5 L663.6,921.4 L665.0,915.7 L666.6,910.0 L668.0,905.0 L669.5,900.5 L671.1,896.0 L672.9,891.4 L674.7,886.9 L676.5,882.4 L678.0,878.0 L679.4,873.7 L680.7,869.4 L682.0,865.2 L683.1,860.9 L684.2,856.6 L685.0,852.0 L685.7,847.2 L686.2,842.3 L686.6,837.2 L686.8,832.1 L687.0,827.0 L687.0,822.0 L686.9,817.0 L686.7,812.0 L686.4,807.0 L686.0,802.0 L685.5,797.0 L685.0,792.0 L684.4,787.0 L683.8,781.9 L683.1,776.8 L682.3,771.8 L681.6,766.8 L681.0,762.0 L680.4,757.2 L679.9,752.5 L679.3,747.9 L678.8,743.4 L678.4,739.1 L678.0,735.0 L677.7,731.2 L677.4,727.7 L677.2,724.3 L677.0,721.1 L677.0,718.0 L677.0,715.0 L677.2,711.9 L677.6,708.8 L678.1,705.8 L678.6,703.0 L679.0,700.7 L679.3,699.0Z" fill="#cdcdcd"/>
<g mask="url(#toeclip)"><ellipse cx="728.97" cy="398.62" rx="160.37" ry="269.88" transform="rotate(-13.2 728.97 398.62)" fill="none" stroke="#cdcdcd" stroke-width="1.1"/><ellipse cx="729.19" cy="406.60" rx="158.46" ry="265.53" transform="rotate(-13.2 729.19 406.60)" fill="none" stroke="#cdcdcd" stroke-width="1.1"/><ellipse cx="729.47" cy="411.09" rx="156.05" ry="258.51" transform="rotate(-13.2 729.47 411.09)" fill="none" stroke="#cdcdcd" stroke-width="1.1"/><ellipse cx="729.36" cy="417.98" rx="152.93" ry="252.59" transform="rotate(-13.2 729.36 417.98)" fill="none" stroke="#cdcdcd" stroke-width="1.1"/></g>
<g transform="translate(0.8,0.9)" opacity="0.6"><text x="713" y="387" font-family="Liberation Sans" font-size="36" textLength="67" lengthAdjust="spacingAndGlyphs" fill="none" stroke="#a9a9a9" stroke-width="0.8">Left</text><text x="733" y="431.3" font-family="Liberation Sans" font-size="50" textLength="31" lengthAdjust="spacingAndGlyphs" fill="none" stroke="#a9a9a9" stroke-width="0.8">M</text><path d="M689,512.8 L880,525 Q889,526 891,532 L893,545" fill="none" stroke="#a9a9a9" stroke-width="0.8"/><path d="M700,680 L870,700" fill="none" stroke="#a9a9a9" stroke-width="0.8"/><text x="722" y="786" font-family="Liberation Serif" font-style="italic" font-weight="bold" font-size="62" textLength="86" lengthAdjust="spacingAndGlyphs" fill="none" stroke="#a9a9a9" stroke-width="0.8">Bio</text><path d="M804,777 L859,779 L859,798 L804,796 Z" fill="none" stroke="#a9a9a9" stroke-width="0.8"/><text x="806" y="795" font-family="Liberation Sans" font-style="italic" font-weight="bold" font-size="18" textLength="50" lengthAdjust="spacingAndGlyphs" fill="none" stroke="#a9a9a9" stroke-width="0.8">Skive</text><text x="717" y="824" font-family="Liberation Sans" font-size="15" textLength="138" lengthAdjust="spacingAndGlyphs" fill="none" stroke="#a9a9a9" stroke-width="0.5">www.biorthotics.com</text><path d="M704,868 L860,867" fill="none" stroke="#a9a9a9" stroke-width="0.8"/><path d="M696,901.5 L856,899" fill="none" stroke="#a9a9a9" stroke-width="0.8"/></g>
<text x="713" y="387" font-family="Liberation Sans" font-size="36" textLength="67" lengthAdjust="spacingAndGlyphs" fill="none" stroke="#cbcbcb" stroke-width="0.8">Left</text><text x="733" y="431.3" font-family="Liberation Sans" font-size="50" textLength="31" lengthAdjust="spacingAndGlyphs" fill="none" stroke="#cbcbcb" stroke-width="0.8">M</text><path d="M689,512.8 L880,525 Q889,526 891,532 L893,545" fill="none" stroke="#cbcbcb" stroke-width="0.8"/><path d="M700,680 L870,700" fill="none" stroke="#cbcbcb" stroke-width="0.8"/><text x="722" y="786" font-family="Liberation Serif" font-style="italic" font-weight="bold" font-size="62" textLength="86" lengthAdjust="spacingAndGlyphs" fill="none" stroke="#cbcbcb" stroke-width="0.8">Bio</text><path d="M804,777 L859,779 L859,798 L804,796 Z" fill="none" stroke="#cbcbcb" stroke-width="0.8"/><text x="806" y="795" font-family="Liberation Sans" font-style="italic" font-weight="bold" font-size="18" textLength="50" lengthAdjust="spacingAndGlyphs" fill="none" stroke="#cbcbcb" stroke-width="0.8">Skive</text><text x="717" y="824" font-family="Liberation Sans" font-size="15" textLength="138" lengthAdjust="spacingAndGlyphs" fill="none" stroke="#cbcbcb" stroke-width="0.5">www.biorthotics.com</text><path d="M704,868 L860,867" fill="none" stroke="#cbcbcb" stroke-width="0.8"/><path d="M696,901.5 L856,899" fill="none" stroke="#cbcbcb" stroke-width="0.8"/>
</g>
<path d="M569,407.8 L654,404 Q658.3,404.2 658.6,409 L667.7,515.5 L676.7,625.8 L679.3,699 L619,637.3 L606.2,618.1 L598.5,574.5 L588.2,523.2 L579.2,471.9 Z" fill="#cddb3c"/>
<path d="M569,407.8 L654,404 Q658.3,404.2 658.6,409 L667.7,515.5 L676.7,625.8 L679.3,699" fill="none" stroke="#3d4a3a" stroke-width="1"/>
<path d="M589.5,522 L667,515.5" fill="none" stroke="#9db52c" stroke-width="0.8"/>
<ellipse cx="761" cy="1014.2" rx="50" ry="49.2" fill="#cddb3c" stroke="#555" stroke-width="0.8"/>
<line x1="523.5" y1="184.3" x2="605" y2="184.3" stroke="#c8152b" stroke-width="2.5"/><circle cx="605.90" cy="184.2" r="18.90" fill="none" stroke="#c8152b" stroke-width="3.9"/><circle cx="604.8" cy="184.2" r="4.6" fill="#c8152b"/>
<line x1="523.5" y1="495.1" x2="605" y2="495.1" stroke="#c8152b" stroke-width="2.5"/><circle cx="605.80" cy="495.0" r="18.90" fill="none" stroke="#c8152b" stroke-width="3.9"/><circle cx="604.7" cy="495.0" r="4.6" fill="#c8152b"/>
<line x1="523.1" y1="759.3" x2="633" y2="759.3" stroke="#c8152b" stroke-width="2.5"/><circle cx="634.50" cy="759.0" r="18.90" fill="none" stroke="#c8152b" stroke-width="3.9"/><circle cx="633.4" cy="759.0" r="4.6" fill="#c8152b"/>
<line x1="534.8" y1="1019.0" x2="752" y2="1019.0" stroke="#c8152b" stroke-width="2.5"/><circle cx="753.30" cy="1018.9" r="18.90" fill="none" stroke="#c8152b" stroke-width="3.9"/><circle cx="752.2" cy="1018.9" r="4.6" fill="#c8152b"/>
<circle cx="1152" cy="369.8" r="152" fill="none" stroke="#0e9de0" stroke-width="5.7"/>
<circle cx="1152" cy="859" r="152" fill="none" stroke="#0e9de0" stroke-width="5.7"/>

<defs>
<linearGradient id="gtop" x1="1050" y1="0" x2="1260" y2="0" gradientUnits="userSpaceOnUse">
<stop offset="0" stop-color="#5b5b5b"/><stop offset="0.55" stop-color="#575757"/><stop offset="0.85" stop-color="#4e4e4e"/><stop offset="1" stop-color="#3a3a3a"/></linearGradient>
<linearGradient id="gback" x1="0" y1="372" x2="0" y2="420" gradientUnits="userSpaceOnUse">
<stop offset="0" stop-color="#2e2e2e"/><stop offset="1" stop-color="#555" stop-opacity="0"/></linearGradient>
</defs>
<path d="M1051.4,437.9 C1051.5,446 1053,448 1056,451 C1075,466 1115,474.5 1156,474 C1200,473 1240,460 1255,441 C1259,436 1260,432 1259.7,424 L1259.7,418.5 Z" fill="#7b7b7b"/>
<path d="M1107.6,364.6 C1111,363 1115,365 1118,368.5 C1121,371.5 1124,374 1130,375 L1195,376.5 C1205,377 1210,380 1215,384 C1232,397 1248,406 1255.6,412 C1259,415 1260,417 1259.7,419 C1258,430 1250,440 1239,445 C1215,457 1190,462 1156,463.5 C1120,464 1090,458 1068,449 C1057,444 1051.5,441 1051.4,436 C1051.3,428 1055,423 1062,416 C1075,405 1090,395 1096,385 C1100,378 1103,367 1107.6,364.6 Z" fill="url(#gtop)"/>
<path d="M1123.8,374.2 C1127,375 1129,375.2 1132,375.3 L1195,376.5 C1205,377 1210,380 1215,384 C1232,397 1248,406 1255.6,412 C1254,412 1252,411.5 1250,410 C1243,404 1235,397 1228,393.5 C1218,389 1210,384.5 1200,384.5 C1185,385 1175,387.5 1165,387 C1150,386.5 1135,382 1123.8,374.2 Z" fill="#2f2f2f"/>


<path d="M1037,877.2 C1038,900 1044,925 1058.5,940.3 L1255,940.3 C1268,934 1275,908 1274.6,877.2 L1274.6,877.2 L1273.9,878.4 L1273.1,879.9 L1272.1,881.8 L1270.9,883.9 L1269.7,886.0 L1268.4,888.2 L1267.2,890.2 L1266.0,892.0 L1264.8,893.6 L1263.6,895.2 L1262.4,896.7 L1261.2,898.2 L1259.9,899.6 L1258.6,900.9 L1257.3,902.3 L1256.0,903.5 L1254.7,904.7 L1253.4,905.8 L1252.1,906.8 L1250.8,907.8 L1249.5,908.7 L1248.1,909.6 L1246.6,910.5 L1245.0,911.5 L1243.4,912.5 L1241.9,913.4 L1240.3,914.3 L1238.7,915.2 L1236.9,916.1 L1234.9,917.1 L1232.6,918.0 L1230.0,919.0 L1227.1,920.0 L1223.9,921.1 L1220.5,922.3 L1216.9,923.4 L1213.0,924.5 L1208.9,925.6 L1204.6,926.6 L1200.0,927.5 L1195.1,928.4 L1189.8,929.2 L1184.2,930.1 L1178.4,930.8 L1172.5,931.5 L1166.5,932.0 L1160.7,932.4 L1155.0,932.6 L1149.4,932.6 L1143.8,932.5 L1138.3,932.2 L1132.7,931.8 L1127.2,931.2 L1121.7,930.5 L1116.3,929.6 L1111.0,928.6 L1105.7,927.4 L1100.2,926.0 L1094.8,924.5 L1089.5,922.9 L1084.3,921.1 L1079.4,919.1 L1074.8,917.1 L1070.6,915.0 L1066.8,912.7 L1063.4,910.2 L1060.3,907.5 L1057.5,904.7 L1054.8,901.9 L1052.4,899.1 L1050.1,896.5 L1048.0,894.0 L1046.0,891.6 L1044.2,889.1 L1042.5,886.7 L1041.1,884.3 L1039.8,882.1 L1038.7,880.1 L1037.8,878.5 L1037.0,877.2 Z" fill="#000"/>
<path d="M1155,932.4 L1251,906.6 L1250.8,907.8 L1249.5,908.7 L1248.1,909.6 L1246.6,910.5 L1245.0,911.5 L1243.4,912.5 L1241.9,913.4 L1240.3,914.3 L1238.7,915.2 L1236.9,916.1 L1234.9,917.1 L1232.6,918.0 L1230.0,919.0 L1227.1,920.0 L1223.9,921.1 L1220.5,922.3 L1216.9,923.4 L1213.0,924.5 L1208.9,925.6 L1204.6,926.6 L1200.0,927.5 L1195.1,928.4 L1189.8,929.2 L1184.2,930.1 L1178.4,930.8 L1172.5,931.5 L1166.5,932.0 L1160.7,932.4 L1155.0,932.6 Z" fill="#e01a1a"/>
<path d="M1152.5,923 L1190.5,912.6 M1218.5,904 L1256.5,893.6" stroke="#e01a1a" stroke-width="1.5" fill="none"/>
<text x="1190.5" y="914" font-family="Liberation Sans" font-size="19.5" fill="#e01a1a" textLength="27.5" lengthAdjust="spacingAndGlyphs">15°</text>


<defs>
<clipPath id="bub"><circle cx="440" cy="361.6" r="84.6"/></clipPath>
<radialGradient id="gbub" cx="425" cy="350" r="92" gradientUnits="userSpaceOnUse">
<stop offset="0" stop-color="#ffffff"/><stop offset="0.6" stop-color="#f3f6f6"/><stop offset="0.88" stop-color="#e2e7e8"/><stop offset="1" stop-color="#c9cfd1"/></radialGradient>
<linearGradient id="gpur" x1="410" y1="0" x2="525" y2="0" gradientUnits="userSpaceOnUse">
<stop offset="0" stop-color="#9b90d0"/><stop offset="0.6" stop-color="#8a7fc6"/><stop offset="0.85" stop-color="#8f85c8"/><stop offset="1" stop-color="#6a5fb7"/></linearGradient>
<linearGradient id="garrow1" x1="380" y1="310" x2="430" y2="350" gradientUnits="userSpaceOnUse">
<stop offset="0" stop-color="#f7e22a"/><stop offset="0.45" stop-color="#ecd21f"/><stop offset="1" stop-color="#a88f1c"/></linearGradient>
<linearGradient id="garrow2" x1="430" y1="366" x2="385" y2="410" gradientUnits="userSpaceOnUse">
<stop offset="0" stop-color="#a88f1c"/><stop offset="0.45" stop-color="#e0c824"/><stop offset="1" stop-color="#f7e22a"/></linearGradient>
<linearGradient id="gtopw" x1="0" y1="282" x2="0" y2="307" gradientUnits="userSpaceOnUse"><stop offset="0" stop-color="#fff" stop-opacity="0.95"/><stop offset="0.55" stop-color="#fff" stop-opacity="0.6"/><stop offset="1" stop-color="#fff" stop-opacity="0"/></linearGradient>
<radialGradient id="ghl" cx="0.5" cy="0.5" r="0.5"><stop offset="0" stop-color="#fff" stop-opacity="0.9"/><stop offset="1" stop-color="#fff" stop-opacity="0"/></radialGradient>
</defs>
<g clip-path="url(#bub)">
<circle cx="440" cy="361.6" r="84.6" fill="url(#gbub)"/>
<path d="M410.2,450 L410.2,300 Q410.5,288 424,287 L540,285 L540,460 Z" fill="url(#gpur)"/>
<path d="M410.2,450 L410.2,300 L416,300 L418,405 L470,450 Z" fill="#b2a7dd"/>
<path d="M414,329 L446,355.6 L424,387 L414,387 Z" fill="#5c57b0"/><path d="M416.5,331.5 L446,355.6 L424.6,386 Z" fill="#4e4aa8"/>
<path d="M414.3,306.5 L480.4,303.9 L481.3,434 L463.4,441.4 L456.9,431.6 L443.8,417 L430,406.4 L424,405 L423.5,386 L445.9,355.6 L416.5,332 Z" fill="#97c21f"/>
<path d="M423.5,386 L445.9,355.6 L449,381 Z" fill="#c2dc55"/>
<path d="M445.9,355.6 L455,336 L449,381 Z" fill="#a9cf34"/>
<path d="M416.5,331 L440,329 M446,355.6 L480,355 M424,386 L452,383" stroke="#4aa832" stroke-width="0.9" fill="none"/>
<path d="M481.3,304 L481.3,434" stroke="#3ea83a" stroke-width="1"/>
<ellipse cx="494" cy="335" rx="8" ry="45" fill="url(#ghl)" opacity="0.85"/><ellipse cx="445" cy="292" rx="48" ry="15" fill="url(#ghl)"/><ellipse cx="430" cy="290" rx="25" ry="10" fill="url(#ghl)"/>

<path d="M383.4,307.5 L375.6,337.7 L382.5,336 C386,342 390,345.5 395.6,348.2 C402,351.5 409,353.3 415,353.1 C420,352.8 425,350.5 429,347.4 C424,347.8 418,347 413.5,345 C408,342.5 404,339.5 402,336 C400,333 398.5,331 397.6,328.7 L403.7,324.6 Z" fill="url(#garrow1)" stroke="#6b5a12" stroke-width="0.5"/>
<path d="M430.6,365.9 C424,364 415,362.8 407,363.8 C401,365 397,368 393.5,372.5 C391,376 389.2,379 388.2,381.7 L378.1,383 L389,412.7 L408.2,391.5 L400.4,387.4 C401,384 402,381 403.7,378.5 C406,375 409.5,371.8 413.5,369.5 C418.5,367 424,366.2 430.6,365.9 Z" fill="url(#garrow2)" stroke="#6b5a12" stroke-width="0.5"/>
</g>
<circle cx="440" cy="361.6" r="84.2" fill="none" stroke="#c6cccd" stroke-width="0.8"/>
<text x="445.5" y="324.2" font-family="Liberation Sans" font-size="16.5" fill="#000" textLength="26.4" lengthAdjust="spacingAndGlyphs">Met</text>
<text x="442.6" y="406.8" font-family="Liberation Sans" font-size="17" fill="#000" textLength="27.7" lengthAdjust="spacingAndGlyphs">Ray</text>

</svg>
<div class="t" style="left:322.12px;top:158.90px;font-size:39.24px;line-height:39.24px;font-weight:400;color:#000;-webkit-text-stroke:1.15px #000;transform:scaleX(1.1272)">Trim lines</div>
<div class="t" style="left:267.77px;top:472.90px;font-size:39.24px;line-height:39.24px;font-weight:400;color:#000;-webkit-text-stroke:1.15px #000;transform:scaleX(1.0521)">1st met &amp; ray</div>
<div class="t" style="left:290.82px;top:516.70px;font-size:39.24px;line-height:39.24px;font-weight:400;color:#000;-webkit-text-stroke:1.15px #000;transform:scaleX(1.0924)">replaceable</div>
<div class="t" style="left:313.13px;top:560.60px;font-size:39.24px;line-height:39.24px;font-weight:400;color:#000;-webkit-text-stroke:1.15px #000;transform:scaleX(1.1175)">EVA plugs</div>
<div class="t" style="left:55.68px;top:734.60px;font-size:38.08px;line-height:38.08px;font-weight:400;color:#000;-webkit-text-stroke:1.15px #000;transform:scaleX(1.1386)">Contoured arch support</div>
<div class="t" style="left:43.45px;top:775.00px;font-size:28.34px;line-height:28.34px;font-weight:400;color:#3a3a3a;transform:scaleX(1.1772)">Maps the geometry of your foot,</div>
<div class="t" style="left:85.66px;top:807.50px;font-size:28.34px;line-height:28.34px;font-weight:400;color:#3a3a3a;transform:scaleX(1.1696)">helping to reduce and control</div>
<div class="t" style="left:229.59px;top:839.40px;font-size:28.34px;line-height:28.34px;font-weight:400;color:#3a3a3a;transform:scaleX(1.1316)">excessive pronation</div>
<div class="t" style="left:136.85px;top:994.90px;font-size:38.08px;line-height:38.08px;font-weight:400;color:#000;-webkit-text-stroke:1.15px #000;transform:scaleX(1.1628)">Calcaneal EVA plug</div>
<div class="t" style="left:287.20px;top:1035.00px;font-size:28.34px;line-height:28.34px;font-weight:400;color:#3a3a3a;transform:scaleX(1.1359)">Can be removed</div>
<div class="t" style="left:252.52px;top:1067.50px;font-size:28.34px;line-height:28.34px;font-weight:400;color:#3a3a3a;transform:scaleX(1.1609)">to offload pressure</div>
<div class="t" style="left:1067.55px;top:251.40px;font-size:42.59px;line-height:42.59px;font-weight:400;color:#3c3c3c;-webkit-text-stroke:1.5px #3c3c3c;transform:scaleX(1.0356)">Lowered</div>
<div class="t" style="left:1045.69px;top:299.40px;font-size:42.59px;line-height:42.59px;font-weight:400;color:#3c3c3c;-webkit-text-stroke:1.5px #3c3c3c;transform:scaleX(1.0086)">arch profile</div>
<div class="t" style="left:1047.39px;top:778.70px;font-size:43.46px;line-height:43.46px;font-weight:700;color:#3c3c3c;-webkit-text-stroke:0.3px #3c3c3c;transform:scaleX(1.0025)">15&deg; SKIVE</div>
</body></html>
